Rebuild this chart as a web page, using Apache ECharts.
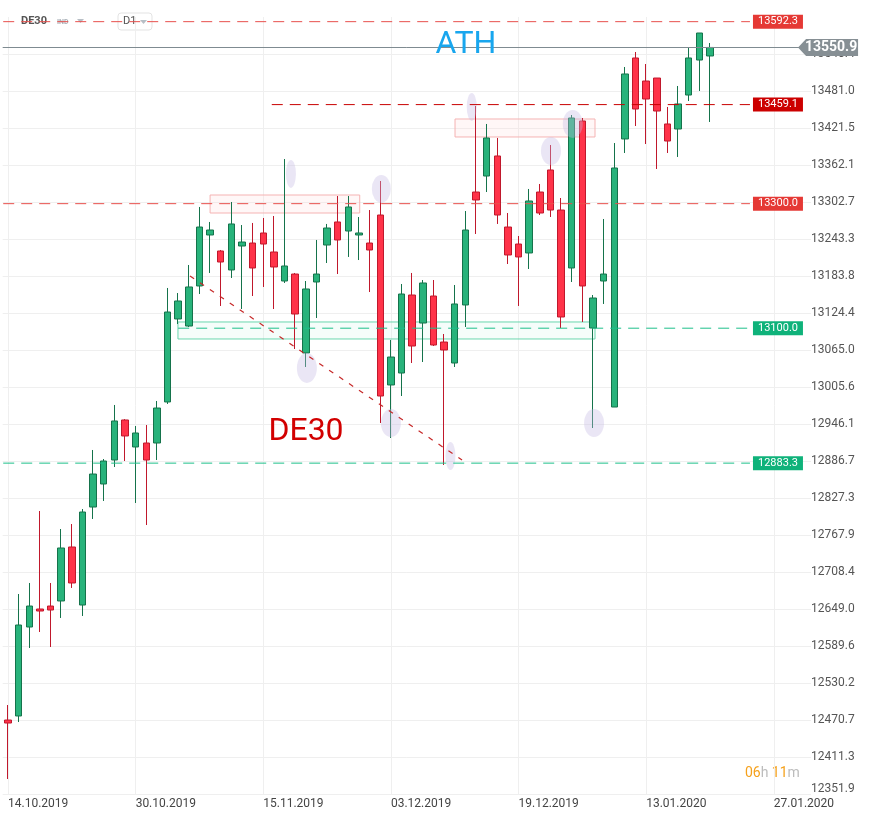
<!DOCTYPE html>
<html>
<head>
<meta charset="utf-8">
<title>DE30 D1</title>
<script src="https://cdn.jsdelivr.net/npm/echarts@6/dist/echarts.min.js"></script>
<style>
  html, body { margin: 0; padding: 0; background: #fff; }
  #chart { width: 870px; height: 820px; }
</style>
</head>
<body>
<div id="chart"></div>
<script>
// trading days (Xetra calendar) + empty slots to the right
const categories = [
  '14.10.2019','15.10.2019','16.10.2019','17.10.2019','18.10.2019','21.10.2019','22.10.2019','23.10.2019','24.10.2019','25.10.2019','28.10.2019','29.10.2019','30.10.2019','31.10.2019',
  '01.11.2019','04.11.2019','05.11.2019','06.11.2019','07.11.2019','08.11.2019','11.11.2019','12.11.2019','13.11.2019','14.11.2019','15.11.2019','18.11.2019','19.11.2019','20.11.2019','21.11.2019','22.11.2019','25.11.2019','26.11.2019','27.11.2019','28.11.2019','29.11.2019',
  '02.12.2019','03.12.2019','04.12.2019','05.12.2019','06.12.2019','09.12.2019','10.12.2019','11.12.2019','12.12.2019','13.12.2019','16.12.2019','17.12.2019','18.12.2019','19.12.2019','20.12.2019','23.12.2019','27.12.2019','30.12.2019',
  '02.01.2020','03.01.2020','06.01.2020','07.01.2020','08.01.2020','09.01.2020','10.01.2020','13.01.2020','14.01.2020','15.01.2020','16.01.2020','17.01.2020','20.01.2020','21.01.2020',
  '22.01.2020','23.01.2020','24.01.2020','27.01.2020','28.01.2020','29.01.2020','30.01.2020','31.01.2020','03.02.2020'
]

const openPrices = [12470.7, 12477.2, 12620.1, 12649.0, 12653.8, 12661.9, 12748.6, 12655.4, 12812.8, 12849.8, 12888.3, 12952.6, 12909.2, 12915.6, 12915.6, 12981.5, 13114.8, 13103.5, 13167.8, 13249.7, 13224.0, 13193.5, 13232.0, 13236.8, 13252.9, 13222.4, 13175.8, 13187.0, 13060.2, 13174.2, 13233.6, 13270.6, 13256.1, 13249.7, 13236.8, 13281.8, 13008.8, 13028.0, 13153.3, 13108.3, 13151.7, 13077.8, 13044.1, 13137.3, 13318.7, 13344.4, 13376.6, 13262.5, 13235.2, 13220.8, 13318.7, 13354.1, 13289.8, 13196.7, 13432.8, 13100.3, 13175.8, 12973.4, 13403.9, 13534.0, 13497.0, 13501.8, 13428.0, 13419.9, 13474.5, 13530.7, 13537.2]
const closePrices = [12465.9, 12623.3, 12653.8, 12645.8, 12647.4, 12747.0, 12690.8, 12804.8, 12865.8, 12886.7, 12951.0, 12926.9, 12931.7, 12888.3, 12971.8, 13126.0, 13143.7, 13166.2, 13262.5, 13257.7, 13206.3, 13267.4, 13238.4, 13196.7, 13235.2, 13198.3, 13199.9, 13122.8, 13163.0, 13187.0, 13260.9, 13241.7, 13294.7, 13252.9, 13225.6, 12991.1, 13053.7, 13154.9, 13071.4, 13172.6, 13073.0, 13065.0, 13138.9, 13257.7, 13305.9, 13405.5, 13281.8, 13217.6, 13214.4, 13304.3, 13285.0, 13289.8, 13118.0, 13437.6, 13167.8, 13148.5, 13187.0, 13357.3, 13508.3, 13452.0, 13468.1, 13448.8, 13400.6, 13460.1, 13534.0, 13574.1, 13550.9]
const lowPrices = [12376.0, 12467.5, 12586.4, 12612.1, 12588.0, 12634.6, 12682.8, 12637.8, 12793.6, 12822.5, 12877.1, 12886.7, 12819.3, 12783.9, 12888.3, 12978.3, 13106.7, 13101.9, 13154.9, 13188.7, 13135.7, 13180.6, 13130.8, 13151.7, 13166.2, 13130.8, 13172.6, 13066.6, 13037.7, 13116.4, 13204.7, 13187.0, 13214.4, 13209.5, 13158.1, 12947.7, 12923.7, 12991.1, 13044.1, 13045.7, 13071.4, 12880.3, 13037.7, 13101.9, 13251.3, 13318.7, 13267.4, 13203.1, 13135.7, 13195.1, 13281.8, 13278.6, 13100.3, 13174.2, 13110.0, 12939.7, 13138.9, 12973.4, 13381.4, 13424.7, 13395.8, 13355.7, 13381.4, 13375.0, 13464.9, 13481.0, 13431.2]
const highPrices = [12494.8, 12673.1, 12690.8, 12806.4, 12690.8, 12777.5, 12785.5, 12809.6, 12904.4, 12889.9, 12976.7, 12954.0, 12942.9, 12944.5, 12983.1, 13164.6, 13156.5, 13201.5, 13294.7, 13270.6, 13225.6, 13302.7, 13265.7, 13269.0, 13277.0, 13280.2, 13371.7, 13188.7, 13175.8, 13241.7, 13267.4, 13312.3, 13312.3, 13278.6, 13289.8, 13336.4, 13081.1, 13171.0, 13188.7, 13177.4, 13177.4, 13090.7, 13169.4, 13288.2, 13456.9, 13428.0, 13405.5, 13285.0, 13248.1, 13323.6, 13331.6, 13394.2, 13309.1, 13442.4, 13437.6, 13153.3, 13275.4, 13397.4, 13519.5, 13543.6, 13524.3, 13501.8, 13455.3, 13489.0, 13551.6, 13574.1, 13558.0]

const xTickLabels = ['14.10.2019', '30.10.2019', '15.11.2019', '03.12.2019', '19.12.2019', '13.01.2020', '27.01.2020']
const yTicks = [12351.9, 12411.3, 12470.7, 12530.2, 12589.6, 12649.0, 12708.4, 12767.9, 12827.3, 12886.7, 12946.1, 13005.6, 13065.0, 13124.4, 13183.8, 13243.3, 13302.7, 13362.1, 13421.5, 13481.0, 13540.4]

// horizontal levels drawn on the chart (price, first bar index)
const levelPrices = [13592.3, 13459.1, 13300.0, 13100.0, 12883.3]
const levelStart = [-0.45, 24.8, -0.45, 16.0, -0.45]
const levelEnd = 69.76
const lastPrice = 13550.9

// zones [x0, price0, x1, price1] in bar-index units
const resistanceZones = [[19.0, 13313.9, 33.07, 13285.0], [42.03, 13436.0, 55.19, 13407.1]]
const supportZones = [[15.98, 13110.0, 55.19, 13082.7]]
const trendLine = [[17.11, 13183.8], [42.69, 12888.3]]
// highlighted wicks [bar index, price, width, height]
const wickMarks = [[26.6, 13347.7, 10, 28], [35.1, 13323.6, 19, 28], [28.1, 13036.1, 20, 30], [36.0, 12947.7, 20, 28], [41.6, 12894.7, 10, 28], [43.6, 13455.3, 10, 28], [51.05, 13384.6, 20, 28], [53.1, 13428.0, 20, 28], [55.1, 12947.7, 20, 28]]

const barStep = 10.636
const gridLeft = 8 - barStep / 2

const candleData = openPrices.map((o, i) => [o, closePrices[i], lowPrices[i], highPrices[i]])

const levelColors = ['#e8504d', '#c80000', '#e8504d', '#1dbf8a', '#1dbf8a']
const levelBoxes = ['#e53935', '#cc0000', '#e53935', '#0fb27a', '#0fb27a']

const chart = echarts.init(document.getElementById('chart'))

// one dashed line series per level, price box as end label
const levelSeries = levelPrices.map((p, i) => ({
  type: 'line',
  name: 'level ' + p,
  xAxisIndex: 1,
  data: [[levelStart[i], p], [levelEnd, p]],
  symbol: 'none',
  silent: true,
  clip: false,
  z: 3,
  lineStyle: { color: levelColors[i], type: [11, 7], width: 1 },
  itemStyle: { color: levelColors[i] },
  endLabel: {
    show: true,
    distance: 3,
    formatter: p.toFixed(1),
    color: '#fff',
    backgroundColor: levelBoxes[i],
    padding: [2, 5, 1, 5],
    fontSize: 11
  }
}))

chart.setOption({
  animation: false,
  textStyle: { fontFamily: 'Roboto, sans-serif' },
  grid: { left: gridLeft, top: 17, width: 76 * barStep, height: 777 },
  xAxis: [{
    type: 'category',
    data: categories,
    boundaryGap: true,
    axisLine: { show: false },
    axisTick: { show: false },
    axisLabel: {
      interval: 11,
      align: 'left',
      margin: 4,
      color: '#444',
      fontSize: 12,
      formatter: (v, idx) => xTickLabels[idx / 12] || ''
    },
    splitLine: { show: true, interval: 11, alignWithLabel: true, lineStyle: { color: '#efefef' } }
  }, {
    type: 'value',
    min: -0.5,
    max: 75.5,
    show: false
  }],
  yAxis: {
    type: 'value',
    position: 'right',
    min: 12351.9,
    max: 13599.8,
    axisLine: { show: false },
    axisTick: { show: false, customValues: yTicks },
    axisLabel: {
      customValues: yTicks,
      margin: 0,
      color: '#555',
      fontSize: 12,
      formatter: v => (v === yTicks[0] ? '{low|' + v.toFixed(1) + '}' : v.toFixed(1)),
      rich: { low: { padding: [0, 0, 10, 0], fontSize: 12, color: '#555' } }
    },
    splitLine: { lineStyle: { color: '#efefef' } }
  },
  series: [{
    type: 'candlestick',
    name: 'DE30',
    data: candleData,
    barWidth: 7,
    clip: false,
    itemStyle: {
      color: '#28b37b',
      color0: '#ff3349',
      borderColor: '#15734b',
      borderColor0: '#c0182c',
      borderWidth: 1
    },
    // current price line
    markLine: {
      silent: true,
      symbol: ['none', 'none'],
      lineStyle: { color: '#7f8b91', type: 'solid', width: 1 },
      label: { show: false },
      data: [{ yAxis: lastPrice }]
    }
  }, {
    type: 'scatter',
    name: 'marks',
    xAxisIndex: 1,
    clip: false,
    silent: true,
    data: wickMarks.map(m => ({ value: [m[0], m[1]], symbolSize: [m[2], m[3]] })),
    itemStyle: { color: 'rgba(196,186,228,0.45)' },
    markArea: {
      silent: true,
      data: resistanceZones.map(z => [
        { coord: [z[0], z[1]], itemStyle: { color: 'rgba(255,210,210,0.18)', borderColor: '#f5b3b3', borderWidth: 1 } },
        { coord: [z[2], z[3]] }
      ]).concat(supportZones.map(z => [
        { coord: [z[0], z[1]], itemStyle: { color: 'rgba(190,240,220,0.15)', borderColor: '#6ad6ae', borderWidth: 1 } },
        { coord: [z[2], z[3]] }
      ]))
    },
    markLine: {
      silent: true,
      symbol: ['none', 'none'],
      data: [
        [
          { coord: trendLine[0], lineStyle: { color: '#c62828', type: [5, 7], width: 1.2 }, label: { show: false } },
          { coord: trendLine[1] }
        ]
      ]
    },
    markPoint: {
      silent: true,
      data: [
        {
          coord: [43.06, 13554.9], symbol: 'circle', symbolSize: 1,
          itemStyle: { color: 'rgba(0,0,0,0)' },
          label: { show: true, position: 'inside', formatter: 'ATH', fontSize: 32, color: '#18a6ee' }
        },
        {
          coord: [28.02, 12933.0], symbol: 'circle', symbolSize: 1,
          itemStyle: { color: 'rgba(0,0,0,0)' },
          label: { show: true, position: 'inside', formatter: 'DE30', fontSize: 32, color: '#d20000' }
        },
        {
          coord: [74.28, lastPrice],
          symbol: 'path://M0,8.5L8,0L60,0L60,17L8,17Z',
          symbolSize: [60, 17],
          symbolKeepAspect: false,
          symbolOffset: ['50%', 0],
          itemStyle: { color: '#868f94' },
          label: { show: true, position: 'inside', offset: [3, 0], formatter: lastPrice.toFixed(1), fontSize: 14, fontWeight: 'bold', color: '#fff' }
        }
      ]
    }
  }].concat(levelSeries),
  graphic: [
    { type: 'text', left: 21, top: 16, style: { text: 'DE30', fontSize: 11, fontWeight: 'bold', fill: '#555', fontFamily: 'Roboto' } },
    { type: 'text', left: 57, top: 19, style: { text: 'IND', fontSize: 7, fontWeight: 'bold', fill: '#a8b0b8', fontFamily: 'Roboto' } },
    { type: 'polygon', shape: { points: [[77, 19], [84, 19], [80.5, 23]] }, style: { fill: '#b8bfc6' } },
    { type: 'rect', shape: { x: 118, y: 13, width: 34, height: 17, r: 3 }, style: { fill: '#fff', stroke: '#e3e3e3', lineWidth: 1 } },
    { type: 'text', left: 123, top: 16, style: { text: 'D1', fontSize: 11, fill: '#555', fontFamily: 'Roboto' } },
    { type: 'polygon', shape: { points: [[140, 20], [147, 20], [143.5, 24]] }, style: { fill: '#b8bfc6' } },
    {
      type: 'text', left: 745, top: 766,
      style: {
        text: '{o|06}{g|h} {o|11}{g|m}',
        rich: {
          o: { fontSize: 14, fill: '#f5a11c', fontFamily: 'Roboto' },
          g: { fontSize: 14, fill: '#bcbcbc', fontFamily: 'Roboto' }
        }
      }
    }
  ]
})
</script>
</body>
</html>
